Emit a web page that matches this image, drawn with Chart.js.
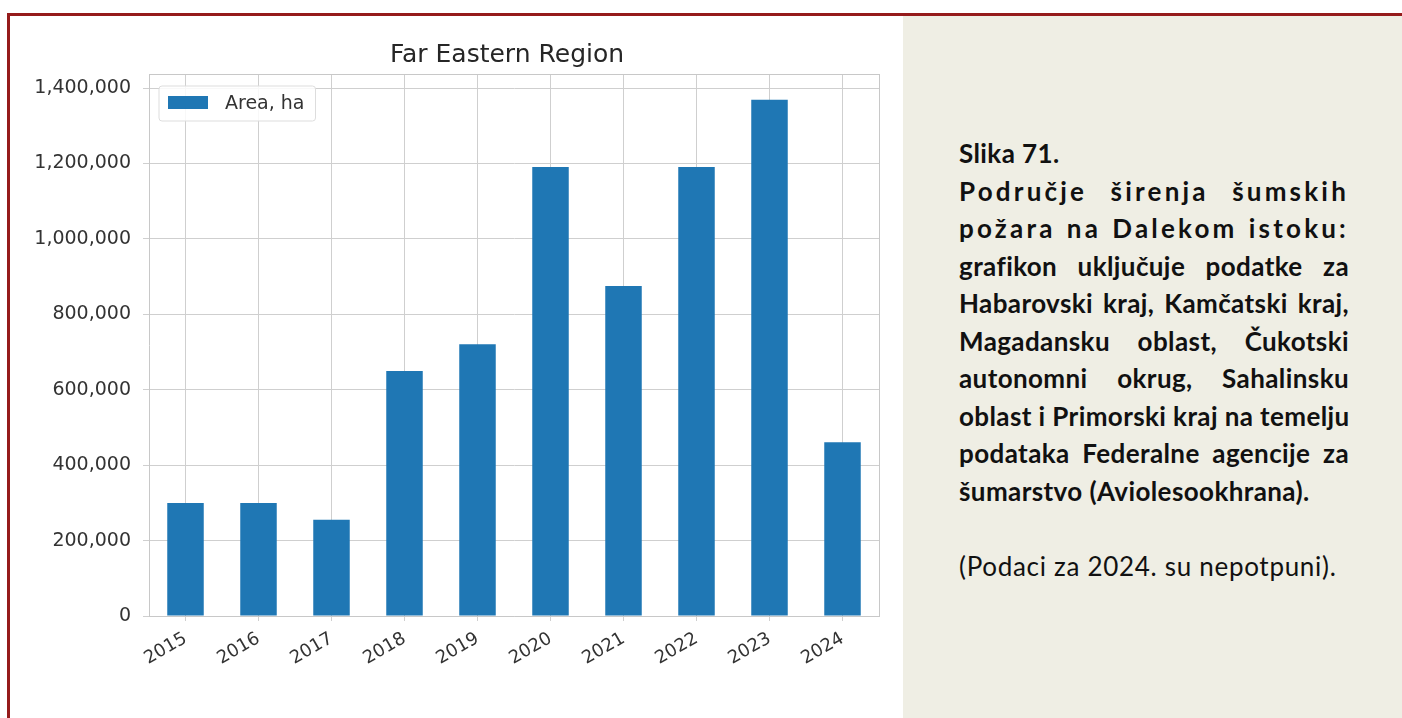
<!DOCTYPE html>
<html>
<head>
<meta charset="utf-8">
<script src="https://cdn.jsdelivr.net/npm/chart.js@4.4.1/dist/chart.umd.min.js"></script>
<style>
  html, body { margin: 0; padding: 0; }
  body { width: 1402px; height: 718px; position: relative; overflow: hidden; background: #ffffff; }
  .line { position: absolute; background: #951b1b; z-index: 5; }
  #panel { position: absolute; left: 903px; top: 16px; width: 499px; height: 702px; background: #efeee4; }
  #chartbox { position: absolute; left: 0; top: 0; width: 900px; height: 718px; }
  #caption { position: absolute; left: 959px; top: 135px; width: 390px; font-family: Lato, "Open Sans", sans-serif; font-size: 26px; line-height: 37.5px; color: #111; letter-spacing: 0.4px; }
  #caption .b { font-weight: 700; }
  #caption .j { text-align: justify; text-align-last: justify; white-space: nowrap; }
  #caption .sp { letter-spacing: 3.2px; }
  #caption .r { font-weight: 400; letter-spacing: 0.7px; }
</style>
</head>
<body>
<div class="line" style="left:7px;top:13px;width:1395px;height:3px;"></div>
<div class="line" style="left:7px;top:13px;width:3px;height:705px;"></div>
<div id="panel"></div>
<div id="chartbox"><canvas id="c" width="900" height="718"></canvas></div>
<div id="caption">
  <div class="b">Slika 71.</div>
  <div class="b j sp">Područje širenja šumskih</div>
  <div class="b j sp">požara na Dalekom istoku:</div>
  <div class="b j">grafikon uključuje podatke za</div>
  <div class="b j">Habarovski kraj, Kamčatski kraj,</div>
  <div class="b j">Magadansku oblast, Čukotski</div>
  <div class="b j">autonomni okrug, Sahalinsku</div>
  <div class="b j">oblast i Primorski kraj na temelju</div>
  <div class="b j">podataka Federalne agencije za</div>
  <div class="b">šumarstvo (Aviolesookhrana).</div>
  <div>&nbsp;</div>
  <div class="r">(Podaci za 2024. su nepotpuni).</div>
</div>
<script>
// ---- data ----
const chartTitle = 'Far Eastern Region';
const seriesLabel = 'Area, ha';
const categories = ['2015', '2016', '2017', '2018', '2019', '2020', '2021', '2022', '2023', '2024'];
const areaHa = [300000, 300000, 255000, 650000, 721000, 1191000, 875000, 1191000, 1369000, 461000];
const yTickValues = [0, 200000, 400000, 600000, 800000, 1000000, 1200000, 1400000];

// ---- styles ----
const barColor = '#1f77b4';
const gridColor = '#cfcfcf';
const spineColor = '#c8c8c8';
const textColor = '#333333';
const fontFamily = '"DejaVu Sans", sans-serif';
const yMax = Math.max(...areaHa) * 1.05;

const titlePlugin = {
  id: 'mplTitle',
  afterDraw(chart) {
    const ctx = chart.ctx, a = chart.chartArea;
    ctx.save();
    ctx.font = '25px ' + fontFamily;
    ctx.fillStyle = '#262626';
    ctx.textAlign = 'center';
    ctx.textBaseline = 'middle';
    ctx.fillText(chartTitle, (a.left + a.right) / 2 - 7, 55);
    ctx.restore();
  }
};

const framePlugin = {
  id: 'frame',
  afterDatasetsDraw(chart) {
    const ctx = chart.ctx, a = chart.chartArea;
    ctx.save();
    ctx.strokeStyle = spineColor;
    ctx.lineWidth = 1;
    ctx.beginPath();
    ctx.moveTo(a.right + 0.5, a.top);
    ctx.lineTo(a.right + 0.5, a.bottom);
    ctx.moveTo(a.left, a.top + 0.5);
    ctx.lineTo(a.right, a.top + 0.5);
    ctx.stroke();
    ctx.restore();
  }
};

const legendPlugin = {
  id: 'mplLegend',
  afterDatasetsDraw(chart) {
    const ctx = chart.ctx, a = chart.chartArea;
    const ds = chart.data.datasets[0];
    ctx.save();
    ctx.font = '19px ' + fontFamily;
    const tw = ctx.measureText(ds.label).width;
    const x = a.left + 10, y = a.top + 12;
    const padL = 9, patchW = 40, patchH = 13, gap = 17, padR = 11, h = 35;
    const w = padL + patchW + gap + tw + padR;
    const r = 3;
    ctx.beginPath();
    ctx.moveTo(x + r, y);
    ctx.lineTo(x + w - r, y);
    ctx.arcTo(x + w, y, x + w, y + r, r);
    ctx.lineTo(x + w, y + h - r);
    ctx.arcTo(x + w, y + h, x + w - r, y + h, r);
    ctx.lineTo(x + r, y + h);
    ctx.arcTo(x, y + h, x, y + h - r, r);
    ctx.lineTo(x, y + r);
    ctx.arcTo(x, y, x + r, y, r);
    ctx.closePath();
    ctx.fillStyle = 'rgba(255,255,255,0.85)';
    ctx.fill();
    ctx.strokeStyle = '#dddddd';
    ctx.lineWidth = 1;
    ctx.stroke();
    ctx.fillStyle = ds.backgroundColor;
    ctx.fillRect(x + padL, y + h / 2 - patchH / 2 - 1, patchW, patchH);
    ctx.fillStyle = textColor;
    ctx.textAlign = 'left';
    ctx.textBaseline = 'middle';
    ctx.fillText(ds.label, x + padL + patchW + gap, y + h / 2 + 1);
    ctx.restore();
  }
};

new Chart(document.getElementById('c'), {
  type: 'bar',
  data: {
    labels: categories,
    datasets: [{
      label: seriesLabel,
      data: areaHa,
      backgroundColor: barColor,
      borderWidth: 0,
      barPercentage: 0.5,
      categoryPercentage: 1.0
    }]
  },
  options: {
    responsive: false,
    animation: false,
    devicePixelRatio: 1,
    layout: { padding: { top: 74, left: 0, right: 21, bottom: 0 } },
    plugins: {
      legend: { display: false },
      title: { display: false },
      tooltip: { enabled: false }
    },
    scales: {
      x: {
        offset: true,
        grid: { offset: false, color: gridColor, tickLength: 5, drawTicks: true },
        border: { color: spineColor },
        ticks: { minRotation: 30, maxRotation: 30, padding: 7, color: textColor, font: { family: fontFamily, size: 18 } },
        afterFit(s) { s.height = 102; }
      },
      y: {
        min: 0,
        max: yMax,
        afterBuildTicks(s) { s.ticks = yTickValues.map(v => ({ value: v })); },
        grid: { color: gridColor, tickLength: 6 },
        border: { color: spineColor },
        ticks: {
          padding: 12,
          color: textColor,
          font: { family: fontFamily, size: 19 },
          callback: v => Number(v).toLocaleString('en-US')
        },
        afterFit(s) { s.width = 149; }
      }
    }
  },
  plugins: [titlePlugin, framePlugin, legendPlugin]
});
</script>
</body>
</html>
